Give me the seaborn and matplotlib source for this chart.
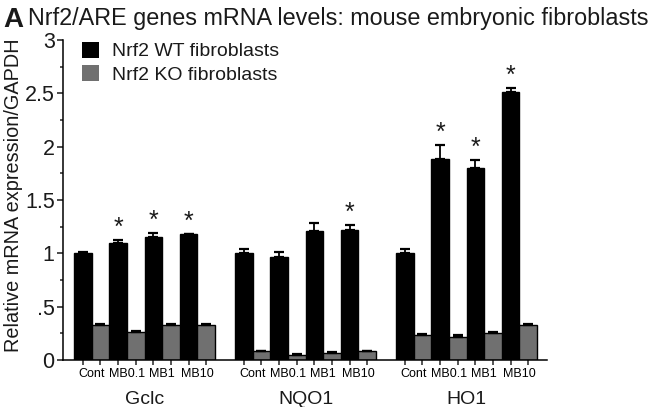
import numpy as np
import pandas as pd
import matplotlib
matplotlib.use("Agg")
import matplotlib.pyplot as plt
import seaborn as sns
from matplotlib.patches import Patch
from matplotlib.ticker import MultipleLocator, FixedLocator

# Data
genes = ["Gclc", "NQO1", "HO1"]
conditions = ["Cont", "MB0.1", "MB1", "MB10"]
genotypes = ["Nrf2 WT fibroblasts", "Nrf2 KO fibroblasts"]

wt_mean = [1.00, 1.10, 1.15, 1.18, 1.00, 0.97, 1.21, 1.22, 1.00, 1.88, 1.80, 2.51]
wt_err = [0.01, 0.025, 0.04, 0.0, 0.04, 0.04, 0.07, 0.045, 0.04, 0.14, 0.075, 0.04]
ko_mean = [0.33, 0.265, 0.33, 0.33, 0.08, 0.05, 0.065, 0.08, 0.235, 0.22, 0.25, 0.33]
ko_err = [0.01, 0.01, 0.01, 0.01, 0.0, 0.01, 0.01, 0.0, 0.01, 0.015, 0.015, 0.01]
significant = [False, True, True, True, False, False, False, True, False, True, True, True]

yticks = [0, 0.5, 1, 1.5, 2, 2.5, 3]
ytick_labels = ["0", ".5", "1", "1.5", "2", "2.5", "3"]

# layout: one unit per condition pair, extra gap between genes
group_gap = 0.565
rows = []
for gi, g in enumerate(genes):
    for ci, c in enumerate(conditions):
        k = gi * len(conditions) + ci
        pos = gi * (len(conditions) + group_gap) + ci
        rows.append(dict(gene=g, cond=c, genotype=genotypes[0], value=wt_mean[k], err=wt_err[k], pos=pos, sig=significant[k]))
        rows.append(dict(gene=g, cond=c, genotype=genotypes[1], value=ko_mean[k], err=ko_err[k], pos=pos, sig=False))
df = pd.DataFrame(rows)

sns.set_style("white")
plt.rcParams["font.family"] = ["Liberation Sans", "DejaVu Sans"]
text_color = "#1a1a1a"
gray = "#707070"

fig = plt.figure(figsize=(6.67, 4.07), dpi=100)
ax = fig.add_axes([63 / 667, 47 / 407, 484 / 667, 320 / 407])

sns.barplot(data=df, x="pos", y="value", hue="genotype", hue_order=genotypes,
            native_scale=True, width=1.0, palette=["black", gray],
            edgecolor="black", linewidth=1.0, errorbar=None, legend=False, ax=ax)

# one-sided error bars
for i, gt in enumerate(genotypes):
    sub = df[df.genotype == gt]
    xs = sub.pos.values + (-0.25 if i == 0 else 0.25)
    ax.errorbar(xs, sub.value.values, yerr=[np.zeros(len(sub)), sub.err.values],
                fmt="none", ecolor="black", elinewidth=1.3, capsize=3.3, capthick=1.6, zorder=1)

# significance stars
sig = df[df.sig]
for _, r in sig.iterrows():
    ax.annotate("*", (r.pos - 0.25, r.value + r.err), xytext=(0, 3.5), textcoords="offset points",
                ha="center", va="baseline", fontsize=18, color=text_color)

ax.set_ylim(0, 3)
pos_all = np.sort(df.pos.unique())
ax.set_xlim(-0.8125, pos_all[-1] + 0.78)

ax.set_yticks(yticks)
ax.set_yticklabels(ytick_labels)
ax.yaxis.set_minor_locator(MultipleLocator(0.25))
ax.set_xticks(pos_all)
ax.set_xticklabels(conditions * len(genes))
ax.xaxis.set_minor_locator(FixedLocator(np.concatenate([pos_all - 0.25, pos_all + 0.25])))

ax.tick_params(axis="y", which="major", length=4.5, width=1.1, labelsize=15.5, pad=1.5, colors=text_color, left=True)
ax.tick_params(axis="y", which="minor", length=2.5, width=1.1, left=True)
ax.tick_params(axis="x", which="major", length=0, labelsize=9, pad=6, colors="black", bottom=True)
ax.tick_params(axis="x", which="minor", length=3.8, width=1.1, bottom=True)

for s in ["top", "right"]:
    ax.spines[s].set_visible(False)
for s in ["left", "bottom"]:
    ax.spines[s].set_color("black")
    ax.spines[s].set_linewidth(1.1)

ax.set_xlabel("")
ax.set_ylabel("Relative mRNA expression/GAPDH", fontsize=14.3, color=text_color)
ax.yaxis.set_label_coords(-0.082, 0.516)

# gene group labels
for gi, g in enumerate(genes):
    center = gi * (len(conditions) + group_gap) + (len(conditions) - 1) / 2
    ax.annotate(g, (center, 0), xycoords=("data", "axes fraction"), xytext=(0, -28.5),
                textcoords="offset points", ha="center", va="center", fontsize=14, color=text_color)

handles = [Patch(facecolor="black", edgecolor="none"), Patch(facecolor=gray, edgecolor="none")]
ax.legend(handles, genotypes, loc="upper left", bbox_to_anchor=(82 / 667, 1 - 42 / 407),
          bbox_transform=fig.transFigure, frameon=False, fontsize=14, handlelength=0.85,
          handleheight=0.85, handletextpad=0.7, labelspacing=0.25, borderpad=0, borderaxespad=0,
          labelcolor=text_color)

fig.text(3 / 667, 1 - 27 / 407, "A", fontsize=20, fontweight="bold", color=text_color, va="baseline")
fig.text(28 / 667, 1 - 25 / 407, "Nrf2/ARE genes mRNA levels: mouse embryonic fibroblasts",
         fontsize=16.8, color=text_color, va="baseline")

fig.savefig("out.png", dpi=100)
